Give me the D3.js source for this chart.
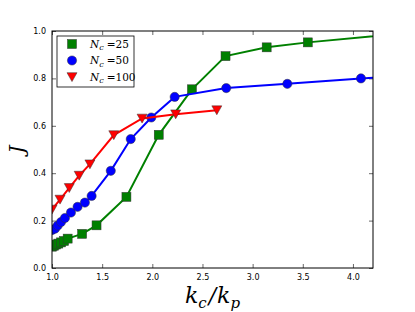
<!DOCTYPE html>
<html>
<head>
<meta charset="utf-8">
<script src="https://cdn.jsdelivr.net/npm/d3@7"></script>
<style>
  body { margin: 0; background: #fff; }
  .tick text { font-family: "DejaVu Sans", sans-serif; font-size: 8px; fill: #000; }
  .math { font-family: "DejaVu Serif", serif; font-style: italic; }
</style>
</head>
<body>
<div id="chart"></div>
<script>
var greenX = [1.0, 1.02, 1.04, 1.063, 1.09, 1.12, 1.156, 1.30, 1.444, 1.742, 2.064, 2.395, 2.73, 3.14, 3.55, 4.5];
var greenY = [0.090, 0.094, 0.099, 0.103, 0.108, 0.114, 0.124, 0.144, 0.180, 0.300, 0.562, 0.754, 0.894, 0.931, 0.952, 0.990];

var blueX = [1.0, 1.03, 1.057, 1.09, 1.129, 1.189, 1.255, 1.328, 1.395, 1.586, 1.785, 1.99, 2.223, 2.737, 3.346, 4.08, 4.6];
var blueY = [0.160, 0.166, 0.179, 0.194, 0.211, 0.234, 0.258, 0.276, 0.304, 0.410, 0.544, 0.635, 0.722, 0.759, 0.777, 0.800, 0.810];

var redX = [1.0, 1.08, 1.172, 1.271, 1.378, 1.616, 1.898, 2.233, 2.643];
var redY = [0.247, 0.289, 0.338, 0.390, 0.438, 0.561, 0.631, 0.649, 0.666];

var xTicks = [1.0, 1.5, 2.0, 2.5, 3.0, 3.5, 4.0];
var yTicks = [0.0, 0.2, 0.4, 0.6, 0.8, 1.0];

var legendNames = ["25", "50", "100"];

var W = 415, H = 312;
var margin = {top: 31, right: 42, bottom: 44, left: 52},
  width = W - margin.left - margin.right,
  height = H - margin.top - margin.bottom;

var svg = d3.select("#chart").append("svg")
  .attr("width", W)
  .attr("height", H);

var g = svg.append("g")
  .attr("transform", "translate(" + margin.left + "," + margin.top + ")");

var x = d3.scaleLinear().domain([1.0, 4.2]).range([0, width]);
var y = d3.scaleLinear().domain([0, 1]).range([height, 0]);

g.append("clipPath").attr("id", "clip")
  .append("rect").attr("width", width).attr("height", height);

// axes, ticks pointing inward on all sides
var fmt = d3.format(".1f");
g.append("g").attr("transform", "translate(0," + height + ")")
  .call(d3.axisBottom(x).tickValues(xTicks).tickFormat(fmt).tickSizeInner(-4).tickSizeOuter(0).tickPadding(6));
g.append("g")
  .call(d3.axisTop(x).tickValues(xTicks).tickFormat("").tickSizeInner(-4).tickSizeOuter(0));
g.append("g")
  .call(d3.axisLeft(y).tickValues(yTicks).tickFormat(fmt).tickSizeInner(-4).tickSizeOuter(0).tickPadding(6));
g.append("g").attr("transform", "translate(" + width + ",0)")
  .call(d3.axisRight(y).tickValues(yTicks).tickFormat("").tickSizeInner(-4).tickSizeOuter(0));
g.selectAll(".domain").remove();
g.selectAll(".tick line").attr("stroke", "#000").attr("stroke-width", 0.6);

var series = [
  {xs: greenX, ys: greenY, color: "#008000", shape: "square"},
  {xs: blueX, ys: blueY, color: "#0000ff", shape: "circle"},
  {xs: redX, ys: redY, color: "#ff0000", shape: "tri"}
];

function marker(sel, shape, color) {
  if (shape === "square") {
    sel.append("rect").attr("x", -4.5).attr("y", -4.5).attr("width", 9).attr("height", 9);
  } else if (shape === "circle") {
    sel.append("circle").attr("r", 4.6);
  } else {
    sel.append("path").attr("d", "M-5,-4.3L5,-4.3L0,4.6Z");
  }
  sel.selectAll("*").attr("fill", color).attr("stroke", "#333").attr("stroke-width", 0.5);
}

var plot = g.append("g").attr("clip-path", "url(#clip)");

series.forEach(function(s) {
  var pts = s.xs.map(function(v, i) { return [v, s.ys[i]]; });
  var line = d3.line()
    .x(function(d) { return x(d[0]); })
    .y(function(d) { return y(d[1]); });
  plot.append("path")
    .datum(pts)
    .attr("fill", "none")
    .attr("stroke", s.color)
    .attr("stroke-width", 2)
    .attr("d", line);
  plot.selectAll(null)
    .data(pts)
    .enter()
    .append("g")
    .attr("transform", function(d) { return "translate(" + x(d[0]) + "," + y(d[1]) + ")"; })
    .each(function() { marker(d3.select(this), s.shape, s.color); });
});

// frame
g.append("rect")
  .attr("width", width).attr("height", height)
  .attr("fill", "none").attr("stroke", "#000").attr("stroke-width", 1);

// legend
var leg = g.append("g").attr("transform", "translate(5,5)");
leg.append("rect")
  .attr("width", 77).attr("height", 51)
  .attr("fill", "#fff").attr("stroke", "#000").attr("stroke-width", 0.8);
series.forEach(function(s, i) {
  var row = leg.append("g").attr("transform", "translate(0," + (8 + i * 16.5) + ")");
  marker(row.append("g").attr("transform", "translate(15,0)"), s.shape, s.color);
  var t = row.append("text").attr("x", 33).attr("y", 3.5)
    .attr("font-size", 10.5).attr("font-family", "DejaVu Serif, serif");
  t.append("tspan").attr("font-style", "italic").text("N");
  t.append("tspan").attr("font-style", "italic").attr("font-size", 8).attr("dy", 2.5).text("c");
  t.append("tspan").attr("dy", -2.5).attr("dx", 3).text("=" + legendNames[i]);
});

// axis labels
svg.append("text")
  .attr("class", "math")
  .attr("x", margin.left + width / 2)
  .attr("y", 303)
  .attr("text-anchor", "middle")
  .attr("font-size", 22)
  .html('k<tspan font-size="15" dy="5">c</tspan><tspan dy="-5" dx="2">/</tspan><tspan dx="1">k</tspan><tspan font-size="15" dy="5">p</tspan>');

svg.append("text")
  .attr("class", "math")
  .attr("transform", "translate(24," + (margin.top + height / 2) + ") rotate(-90)")
  .attr("text-anchor", "middle")
  .attr("font-size", 20)
  .text("J");
</script>
</body>
</html>
